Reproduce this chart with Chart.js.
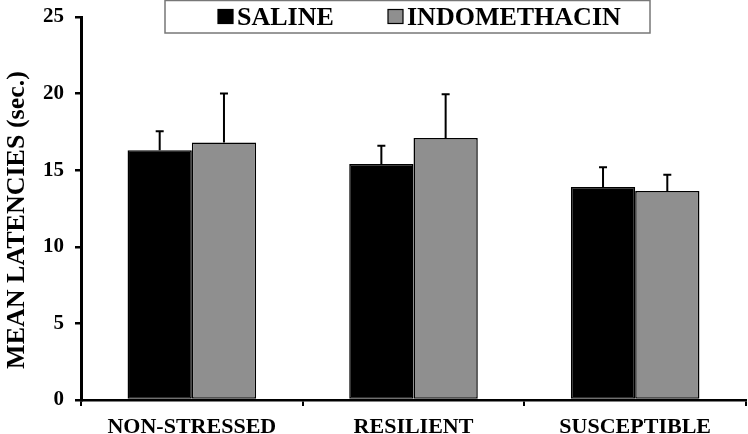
<!DOCTYPE html>
<html>
<head>
<meta charset="utf-8">
<script src="https://cdn.jsdelivr.net/npm/chart.js@4"></script>
<style>
  html, body { margin: 0; padding: 0; background: #fff; }
  #wrap { width: 748px; height: 434px; position: relative; }
</style>
</head>
<body>
<div id="wrap"><canvas id="myChart"></canvas></div>
<script>
const categories = ["NON-STRESSED", "RESILIENT", "SUSCEPTIBLE"];
const salineMean = [16.3, 15.4, 13.9];
const salineErr = [1.25, 1.2, 1.3];
const indoMean = [16.8, 17.1, 13.65];
const indoErr = [3.2, 2.85, 1.05];
const yTicks = [0, 5, 10, 15, 20, 25];
const yTitle = "MEAN LATENCIES (sec.)";

const FONT = "'Liberation Serif', 'Times New Roman', serif";

// error bars (upper whisker only)
const errorBars = {
  id: "errorBars",
  afterDatasetsDraw(chart) {
    const ctx = chart.ctx;
    const y = chart.scales.y;
    ctx.save();
    ctx.strokeStyle = "#000";
    ctx.lineWidth = 2;
    chart.data.datasets.forEach((ds, i) => {
      const meta = chart.getDatasetMeta(i);
      meta.data.forEach((bar, j) => {
        const top = y.getPixelForValue(ds.data[j] + ds.errors[j]);
        ctx.beginPath();
        ctx.moveTo(bar.x, bar.y);
        ctx.lineTo(bar.x, top);
        ctx.moveTo(bar.x - 4, top);
        ctx.lineTo(bar.x + 4, top);
        ctx.stroke();
      });
    });
    ctx.restore();
  }
};

// boxed legend at the top + y title
const boxLegend = {
  id: "boxLegend",
  afterDraw(chart) {
    const ctx = chart.ctx;
    ctx.save();
    ctx.fillStyle = "#fff";
    ctx.fillRect(165, 0, 485, 33);
    ctx.strokeStyle = "#777";
    ctx.lineWidth = 1.5;
    ctx.strokeRect(165, 0.5, 485, 32.5);
    ctx.font = "bold 26px " + FONT;
    ctx.textBaseline = "middle";
    const items = [[218, chart.data.datasets[0]], [388, chart.data.datasets[1]]];
    items.forEach(([x, ds]) => {
      ctx.fillStyle = ds.backgroundColor;
      ctx.fillRect(x, 9.5, 15, 14);
      ctx.strokeStyle = "#000";
      ctx.lineWidth = 1.2;
      ctx.strokeRect(x, 9.5, 15, 14);
      ctx.fillStyle = "#000";
      ctx.fillText(ds.label, x + 19, 18);
    });

    ctx.translate(17, 220);
    ctx.rotate(-Math.PI / 2);
    ctx.textAlign = "center";
    ctx.font = "bold 26px " + FONT;
    ctx.fillText(yTitle, 0, 0);
    ctx.restore();
  }
};

new Chart(document.getElementById("myChart"), {
  type: "bar",
  data: {
    labels: categories,
    datasets: [
      {
        label: "SALINE",
        data: salineMean,
        errors: salineErr,
        backgroundColor: "#000000",
        borderColor: "#000000",
        borderWidth: 1.5,
        borderSkipped: false,
      },
      {
        label: "INDOMETHACIN",
        data: indoMean,
        errors: indoErr,
        backgroundColor: "#8f8f8f",
        borderColor: "#000000",
        borderWidth: 1.5,
        borderSkipped: false,
      },
    ],
  },
  options: {
    responsive: true,
    maintainAspectRatio: false,
    animation: false,
    datasets: { bar: { categoryPercentage: 0.58, barPercentage: 1.0 } },
    layout: { padding: { top: 0, right: 2, left: 0, bottom: 0 } },
    plugins: { legend: { display: false }, tooltip: { enabled: false } },
    scales: {
      x: {
        afterFit: (s) => { s.height = 34; },
        border: { color: "#000", width: 2.5 },
        grid: { drawOnChartArea: false, color: "#000", lineWidth: 2, tickLength: 6 },
        ticks: { color: "#000", font: { family: FONT, weight: "bold", size: 22 }, padding: 8 },
      },
      y: {
        min: 0,
        max: 25,
        afterBuildTicks: (s) => { s.ticks = yTicks.map((v) => ({ value: v })); },
        afterFit: (s) => { s.width = 81; s.paddingTop = 17; },
        border: { color: "#000", width: 3 },
        grid: { drawOnChartArea: false, color: "#000", lineWidth: 2.5, tickLength: 6 },
        ticks: { color: "#000", font: { family: FONT, weight: "bold", size: 21 }, padding: 11 },
      },
    },
  },
  plugins: [errorBars, boxLegend],
});
</script>
</body>
</html>
